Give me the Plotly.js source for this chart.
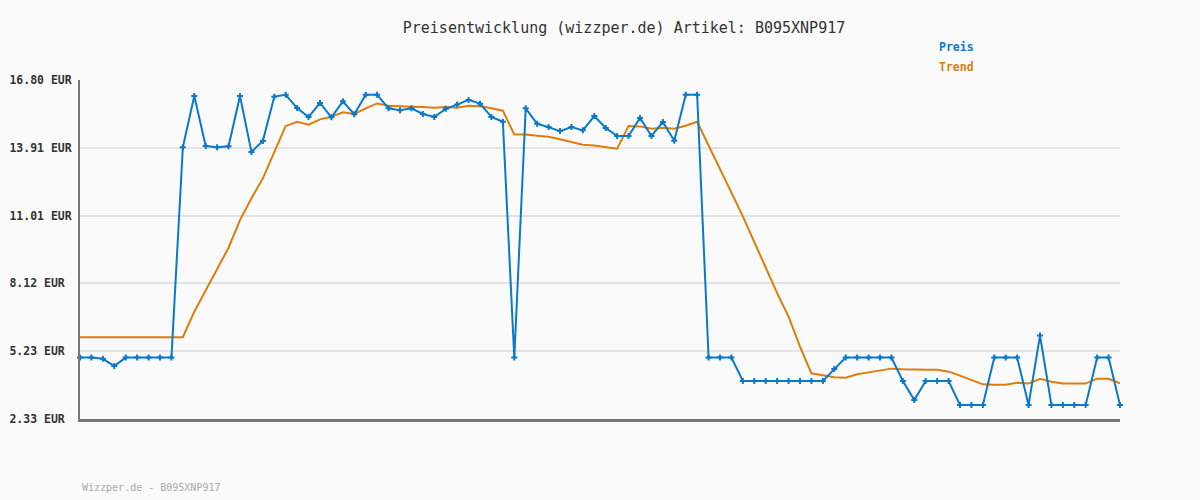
<!DOCTYPE html>
<html>
<head>
<meta charset="utf-8">
<script src="https://cdn.plot.ly/plotly-3.0.1.min.js"></script>
<style>
html,body{margin:0;padding:0;background:#fafafa;}
#chart{width:1200px;height:500px;}
</style>
</head>
<body>
<div id="chart"></div>
<script>
const preis = [
  4.95, 4.95, 4.90, 4.59, 4.95, 4.95, 4.95, 4.95, 4.95, 13.93,
  16.12, 13.98, 13.93, 13.97, 16.12, 13.73, 14.20, 16.09, 16.17, 15.60,
  15.22, 15.82, 15.21, 15.89, 15.34, 16.17, 16.17, 15.59, 15.51, 15.59,
  15.35, 15.22, 15.57, 15.75, 15.95, 15.79, 15.22, 15.02, 4.95, 15.59,
  14.93, 14.79, 14.62, 14.79, 14.65, 15.26, 14.75, 14.41, 14.41, 15.18,
  14.41, 15.01, 14.21, 16.17, 16.17, 4.95, 4.95, 4.95, 3.95, 3.95,
  3.95, 3.95, 3.95, 3.95, 3.95, 3.95, 4.46, 4.95, 4.95, 4.95,
  4.95, 4.95, 3.95, 3.14, 3.95, 3.95, 3.95, 2.93, 2.93, 2.93,
  4.95, 4.95, 4.95, 2.93, 5.89, 2.93, 2.93, 2.93, 2.93, 4.95,
  4.95, 2.93
];
const trend = [
  5.82, 5.82, 5.82, 5.82, 5.82, 5.82, 5.82, 5.82, 5.82, 5.82,
  6.91, 7.84, 8.76, 9.64, 10.82, 11.75, 12.60, 13.74, 14.84, 15.02,
  14.89, 15.12, 15.23, 15.42, 15.35, 15.59, 15.80, 15.70, 15.67, 15.66,
  15.65, 15.62, 15.65, 15.62, 15.70, 15.68, 15.59, 15.49, 14.47, 14.47,
  14.42, 14.38, 14.27, 14.17, 14.04, 14.00, 13.95, 13.87, 14.84, 14.82,
  14.72, 14.76, 14.72, 14.85, 15.02, 13.99, 13.01, 11.99, 10.98, 9.90,
  8.76, 7.70, 6.70, 5.42, 4.28, 4.18, 4.11, 4.09, 4.24, 4.32,
  4.39, 4.48, 4.45, 4.43, 4.43, 4.43, 4.35, 4.18, 3.99, 3.81,
  3.79, 3.79, 3.88, 3.85, 4.05, 3.92, 3.85, 3.84, 3.84, 4.05,
  4.05, 3.85
];
const xIdx = preis.map((_, i) => i);
const yTicks = [2.33, 5.23, 8.12, 11.01, 13.91, 16.80];
const yTickText = ["2.33 EUR", "5.23 EUR", "8.12 EUR", "11.01 EUR", "13.91 EUR", "16.80 EUR"];

const NB = "\u00a0";
const padded = yTickText.map(t => t + NB.repeat(Math.max(0, 9 - t.length)));

const mono = "'DejaVu Sans Mono', 'Liberation Mono', monospace";
const blue = "#0a79c9";
const orange = "#e07c0c";

const traces = [
  {
    x: xIdx, y: trend, type: "scatter", mode: "lines", name: "Trend",
    line: {color: orange, width: 2}, cliponaxis: false, hoverinfo: "skip"
  },
  {
    x: xIdx, y: preis, type: "scatter", mode: "lines+markers", name: "Preis",
    line: {color: blue, width: 2},
    marker: {symbol: "cross", size: 5, color: blue},
    cliponaxis: false
  }
];

const layout = {
  width: 1200, height: 500,
  paper_bgcolor: "#fafafa", plot_bgcolor: "#fafafa",
  margin: {l: 80, r: 80, t: 80, b: 81, pad: 0},
  showlegend: false,
  title: {
    text: "Preisentwicklung (wizzper.de) Artikel: B095XNP917",
    font: {family: mono, size: 15, color: "#333"},
    x: 0.52, xref: "container", xanchor: "center",
    y: 0.944, yref: "container", yanchor: "middle"
  },
  xaxis: {
    range: [0, 91], showgrid: false, zeroline: false,
    showline: true, linecolor: "#777", linewidth: 3,
    showticklabels: false, ticks: "", fixedrange: true
  },
  yaxis: {
    range: [2.33, 16.80], tickmode: "array", tickvals: yTicks, ticktext: padded,
    showgrid: true, gridcolor: "#e3e3e3", gridwidth: 2,
    zeroline: false, showline: true, linecolor: "#777", linewidth: 2,
    ticks: "", ticklabelstandoff: 4,
    tickfont: {family: mono, size: 11.5, color: "#333", weight: "bold"},
    fixedrange: true
  },
  annotations: [
    {text: "<b>Preis</b>", xref: "paper", yref: "paper", x: 0.824, y: 1.097,
     xanchor: "left", yanchor: "middle", showarrow: false,
     font: {family: mono, size: 11.5, color: blue}},
    {text: "<b>Trend</b>", xref: "paper", yref: "paper", x: 0.824, y: 1.038,
     xanchor: "left", yanchor: "middle", showarrow: false,
     font: {family: mono, size: 11.5, color: orange}},
    {text: "Wizzper.de - B095XNP917", xref: "paper", yref: "paper", x: 0, y: -0.2006,
     xanchor: "left", yanchor: "middle", showarrow: false,
     font: {family: mono, size: 10, color: "#aaaaaa"}}
  ]
};

Plotly.newPlot("chart", traces, layout, {staticPlot: true, displayModeBar: false});
</script>
</body>
</html>
